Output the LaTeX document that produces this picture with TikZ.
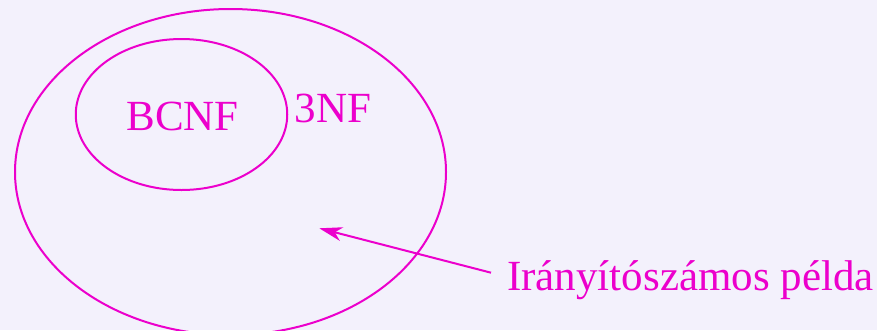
\documentclass[tikz,border=0pt]{standalone}
\usepackage{fontspec}
\setmainfont{Liberation Serif}
\usetikzlibrary{arrows.meta,shapes.geometric}
\definecolor{nfmag}{RGB}{236,0,204}
\definecolor{nfback}{RGB}{243,241,252}
\tikzset{
  nfclass/.style={
    ellipse,
    draw=nfmag,
    line width=2pt,
    inner sep=0pt
  },
  label/.style={text=nfmag,inner sep=0pt,font=\fontsize{43}{50}\selectfont},
  pointer/.style={-{Stealth[length=23pt,width=14pt,inset=7pt]},draw=nfmag,line width=2pt}
}

\begin{document}
\begin{tikzpicture}[x=1pt,y=-1pt]
  % Background and page size.
  \fill[nfback] (0,0) rectangle (877,330);
  \useasboundingbox (0,0) rectangle (877,330);

  % Nested classes.
  \node[nfclass,minimum width=431pt,minimum height=326pt] (nf3) at (230.5,172) {};
  \node[nfclass,minimum width=211.5pt,minimum height=151pt] (bcnf) at (181.5,114.5) {};

  \node[label,anchor=base] (bcnftext) at (182.5,130) {BCNF};
  \node[label,anchor=base] (nf3text) at (333,122.7) {3NF};

  % Example pointing into 3NF.
  \node[label,anchor=base west,inner xsep=16pt] (zipex) at (491,290)
    {Irányítószámos példa};
  \coordinate (ziptip) at (319.3,228.3);
  \draw[pointer] ([yshift=7pt]zipex.west) -- (ziptip);
\end{tikzpicture}
\end{document}
